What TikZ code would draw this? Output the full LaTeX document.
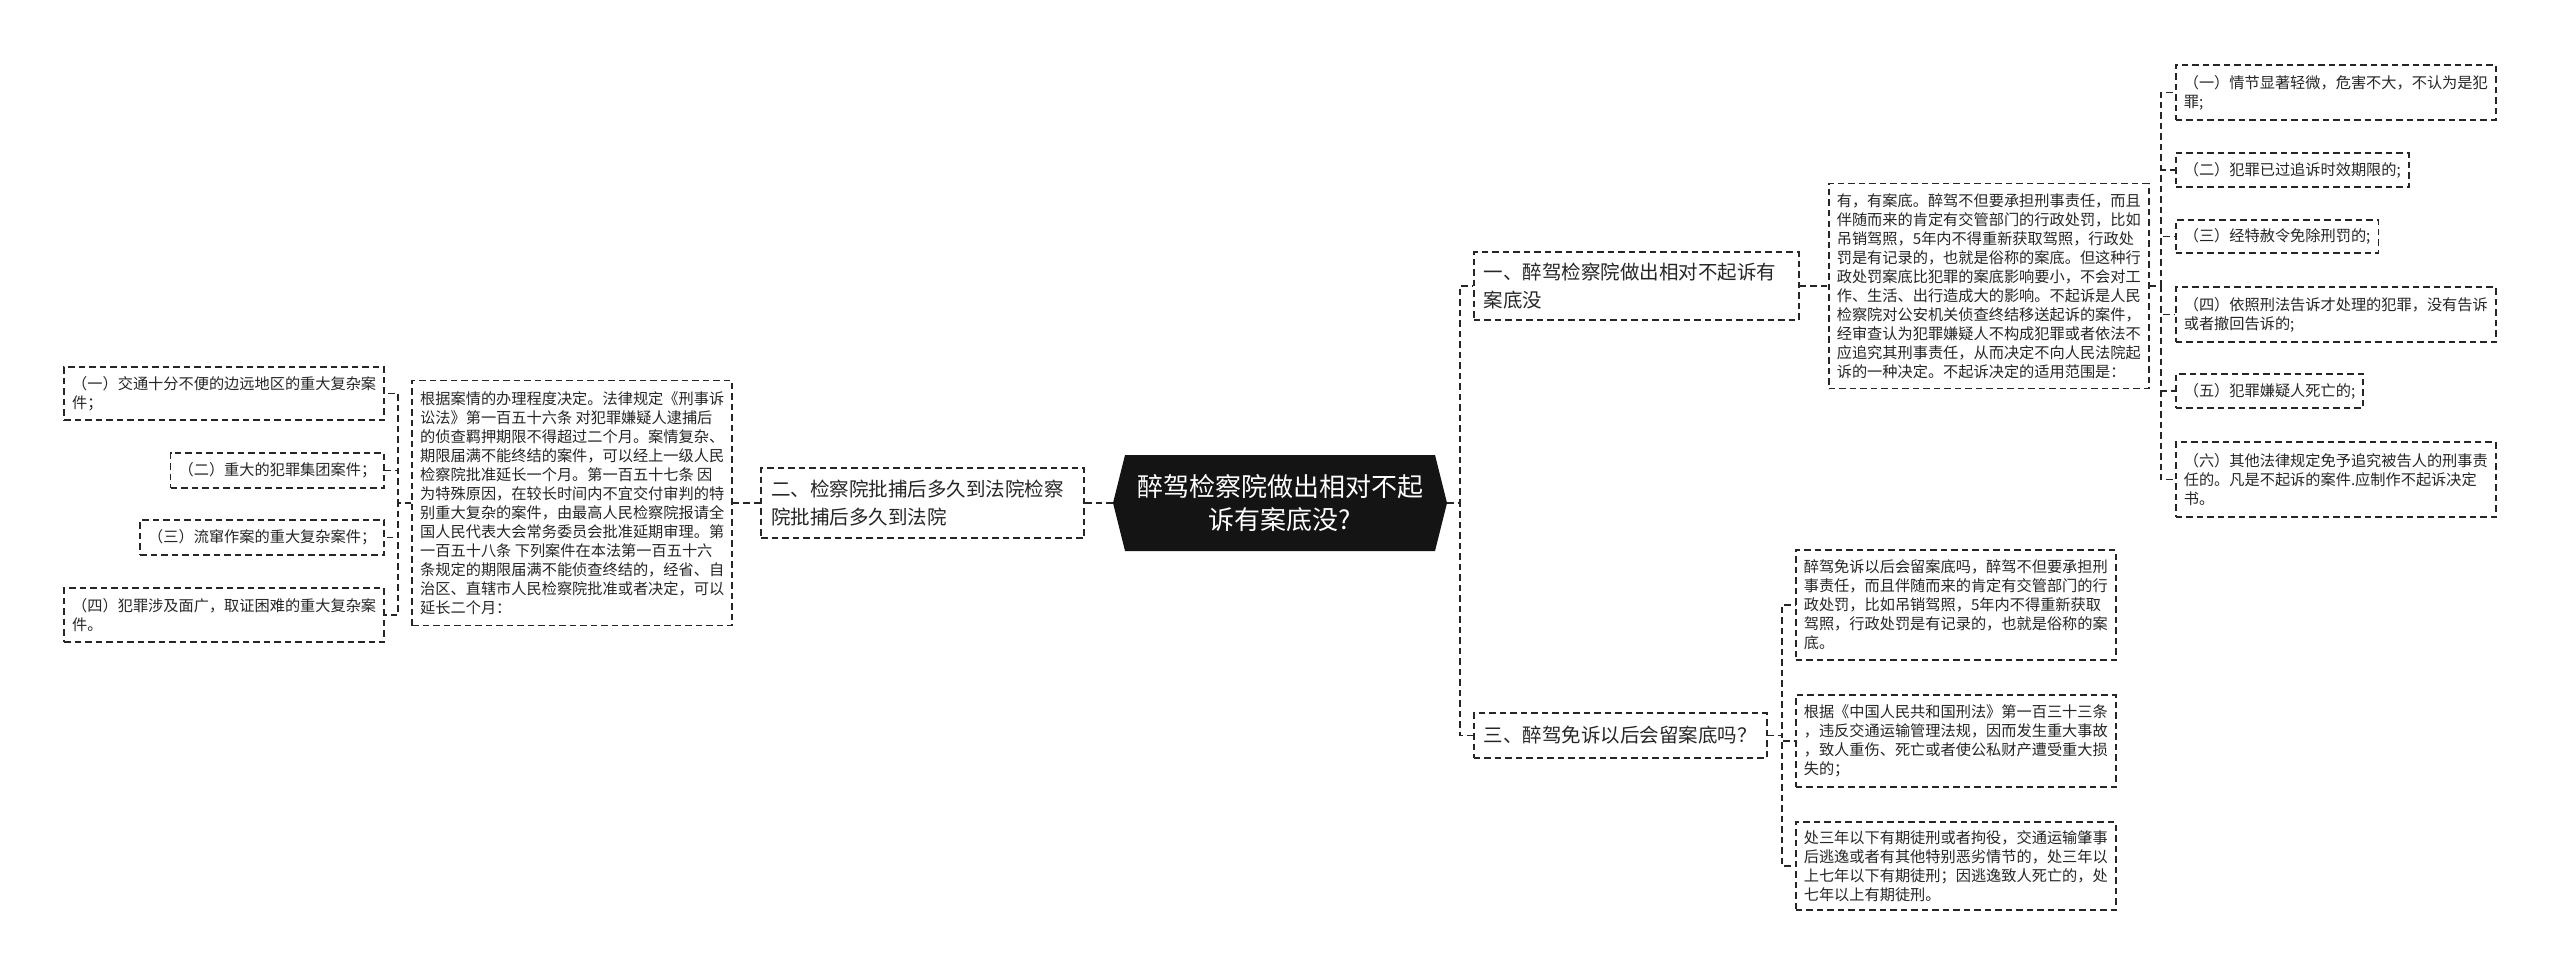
\documentclass[tikz,border=0pt]{standalone}
\usepackage{fontspec}
\newfontfamily\cjk{Noto Sans CJK SC}
\definecolor{linec}{HTML}{262626}
\definecolor{textc}{HTML}{262626}
\definecolor{rootc}{HTML}{141414}
\begin{document}
\begin{tikzpicture}[x=1pt,y=-1pt,
  box/.style={draw=linec, line width=1.6pt, dash pattern=on 6.5pt off 4pt, text=textc, align=left,
    inner xsep=8pt, inner ysep=0pt, font=\cjk\fontsize{15.2}{19}\selectfont},
  midbox/.style={box, inner xsep=10pt, font=\cjk\fontsize{19.5}{28}\selectfont},
  link/.style={draw=linec, line width=1.6pt, dash pattern=on 6.5pt off 4pt},
  rootbox/.style={minimum width=334pt, minimum height=96pt, inner sep=0pt, align=center, text=white,
    font=\cjk\fontsize{26}{33}\selectfont,
    path picture={\fill[rootc] (path picture bounding box.west)
      -- ([xshift=12pt]path picture bounding box.north west)
      -- ([xshift=-12pt]path picture bounding box.north east)
      -- (path picture bounding box.east)
      -- ([xshift=-12pt]path picture bounding box.south east)
      -- ([xshift=12pt]path picture bounding box.south west) -- cycle;}}
]
\useasboundingbox (0,0) rectangle (2560,979);
\fill[white] (0,0) rectangle (2560,979);

% root
\node[rootbox] (root) at (1280,503) {醉驾检察院做出相对不起\\诉有案底没?};

% left branch
\node[midbox, text width=303pt, minimum height=70pt, anchor=east] (L1) at (1085,503)
  {二、检察院批捕后多久到法院检察\\院批捕后多久到法院};
\node[box, minimum height=245pt, anchor=east] (L1box) at (733,503)
  {根据案情的办理程度决定。法律规定《刑事诉\\讼法》第一百五十六条 对犯罪嫌疑人逮捕后\\的侦查羁押期限不得超过二个月。案情复杂、\\期限届满不能终结的案件，可以经上一级人民\\检察院批准延长一个月。第一百五十七条 因\\为特殊原因，在较长时间内不宜交付审判的特\\别重大复杂的案件，由最高人民检察院报请全\\国人民代表大会常务委员会批准延期审理。第\\一百五十八条 下列案件在本法第一百五十六\\条规定的期限届满不能侦查终结的，经省、自\\治区、直辖市人民检察院批准或者决定，可以\\延长二个月：};
\node[box, minimum height=53pt, anchor=east] (LL1) at (385,393.5) {（一）交通十分不便的边远地区的重大复杂案\\件；};
\node[box, minimum height=35pt, anchor=east] (LL2) at (385,470.5) {（二）重大的犯罪集团案件；};
\node[box, minimum height=35pt, anchor=east] (LL3) at (385,537.5) {（三）流窜作案的重大复杂案件；};
\node[box, minimum height=54pt, anchor=east] (LL4) at (385,615) {（四）犯罪涉及面广，取证困难的重大复杂案\\件。};

% right branch 1
\node[midbox, text width=305pt, minimum height=68pt, anchor=west] (R1) at (1473,286)
  {一、醉驾检察院做出相对不起诉有\\案底没};
\node[box, minimum height=205pt, anchor=west] (R1text) at (1828,286)
  {有，有案底。醉驾不但要承担刑事责任，而且\\伴随而来的肯定有交管部门的行政处罚，比如\\吊销驾照，5年内不得重新获取驾照，行政处\\罚是有记录的，也就是俗称的案底。但这种行\\政处罚案底比犯罪的案底影响要小，不会对工\\作、生活、出行造成大的影响。不起诉是人民\\检察院对公安机关侦查终结移送起诉的案件，\\经审查认为犯罪嫌疑人不构成犯罪或者依法不\\应追究其刑事责任，从而决定不向人民法院起\\诉的一种决定。不起诉决定的适用范围是：};
\node[box, minimum height=55pt, anchor=west] (RL1) at (2175,92.5) {（一）情节显著轻微，危害不大，不认为是犯\\罪;};
\node[box, minimum height=34pt, anchor=west] (RL2) at (2175,170) {（二）犯罪已过追诉时效期限的;};
\node[box, minimum height=33pt, anchor=west] (RL3) at (2175,236.5) {（三）经特赦令免除刑罚的;};
\node[box, minimum height=55pt, anchor=west] (RL4) at (2175,314.5) {（四）依照刑法告诉才处理的犯罪，没有告诉\\或者撤回告诉的;};
\node[box, minimum height=34pt, anchor=west] (RL5) at (2175,391) {（五）犯罪嫌疑人死亡的;};
\node[box, minimum height=75pt, anchor=west] (RL6) at (2175,479.5) {（六）其他法律规定免予追究被告人的刑事责\\任的。凡是不起诉的案件.应制作不起诉决定\\书。};

% right branch 3
\node[midbox, minimum height=45pt, anchor=west] (R3) at (1473,735.5) {三、醉驾免诉以后会留案底吗？};
\node[box, minimum height=110pt, anchor=west] (C1) at (1795,605)
  {醉驾免诉以后会留案底吗，醉驾不但要承担刑\\事责任，而且伴随而来的肯定有交管部门的行\\政处罚，比如吊销驾照，5年内不得重新获取\\驾照，行政处罚是有记录的，也就是俗称的案\\底。};
\node[box, minimum height=92pt, anchor=west] (C2) at (1795,741)
  {根据《中国人民共和国刑法》第一百三十三条\\，违反交通运输管理法规，因而发生重大事故\\，致人重伤、死亡或者使公私财产遭受重大损\\失的；};
\node[box, minimum height=88pt, anchor=west] (C3) at (1795,866)
  {处三年以下有期徒刑或者拘役，交通运输肇事\\后逃逸或者有其他特别恶劣情节的，处三年以\\上七年以下有期徒刑；因逃逸致人死亡的，处\\七年以上有期徒刑。};

% spine coordinates
\coordinate (sRoot) at (1460,503);
\coordinate (sL) at (398,503);
\coordinate (sR1) at (2161,286);
\coordinate (sR3) at (1782,735.5);

% connectors
\draw[link] (root.west) -- (L1.east);
\draw[link] (L1.west) -- (L1box.east);
\foreach \c in {LL1,LL2,LL3,LL4} \draw[link] (L1box.west) -- (sL) |- (\c.east);
\foreach \c in {R1,R3} \draw[link] (root.east) -- (sRoot) |- (\c.west);
\draw[link] (R1.east) -- (R1text.west);
\foreach \c in {RL1,RL2,RL3,RL4,RL5,RL6} \draw[link] (R1text.east) -- (sR1) |- (\c.west);
\foreach \c in {C1,C2,C3} \draw[link] (R3.east) -- (sR3) |- (\c.west);
\end{tikzpicture}
\end{document}
